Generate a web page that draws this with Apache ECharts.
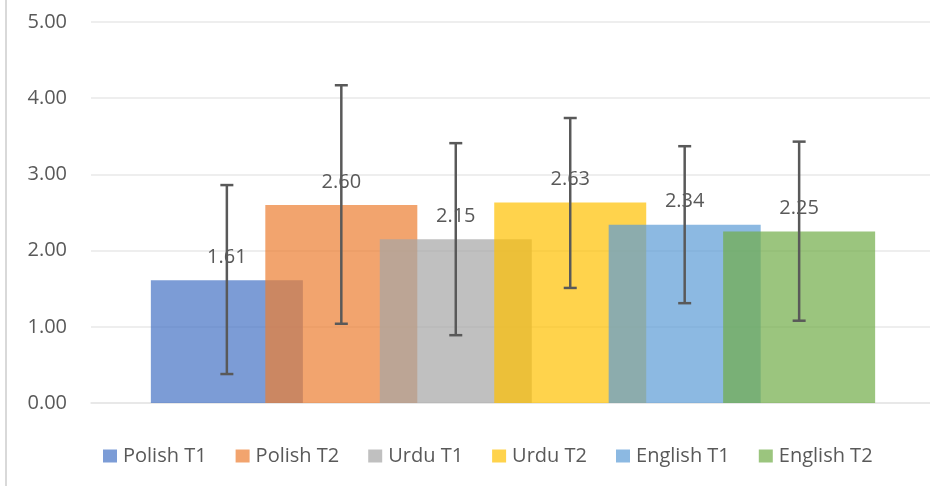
<!DOCTYPE html>
<html>
<head>
<meta charset="utf-8">
<script src="https://cdn.jsdelivr.net/npm/echarts@6/dist/echarts.min.js"></script>
<style>
html,body{margin:0;padding:0;background:#fff;}
#c{width:930px;height:486px;}
</style>
</head>
<body>
<div id="c"></div>
<script>
const seriesNames = ['Polish T1','Polish T2','Urdu T1','Urdu T2','English T1','English T2'];
const means = [1.61, 2.60, 2.15, 2.63, 2.34, 2.25];
const errLow = [0.38, 1.04, 0.89, 1.51, 1.31, 1.08];
const errHigh = [2.86, 4.17, 3.41, 3.74, 3.37, 3.43];
const colors = ['#4472C4','#ED7D31','#A5A5A5','#FFC000','#5B9BD5','#70AD47'];
const yMin = 0, yMax = 5, yStep = 1;

const FONT = 'Open Sans';
const TXT = '#595959';
const BW = 152;
const GAP = -0.247;

function withAlpha(hex, a){
  const r = parseInt(hex.slice(1,3),16), g = parseInt(hex.slice(3,5),16), b = parseInt(hex.slice(5,7),16);
  return 'rgba(' + r + ',' + g + ',' + b + ',' + a + ')';
}

const chart = echarts.init(document.getElementById('c'), null, {renderer:'canvas'});

const n = seriesNames.length;
const total = n*BW + (n-1)*GAP*BW;
function offsetOf(i){ return -total/2 + i*BW*(1+GAP) + BW/2; }

const series = seriesNames.map((name, i) => ({
  name: name,
  type: 'bar',
  barWidth: BW,
  barGap: (GAP*100) + '%',
  data: [means[i]],
  itemStyle: {color: withAlpha(colors[i], 0.7)},
  label: {
    show: true, position: 'top', distance: 13,
    formatter: p => p.value.toFixed(2),
    color: TXT, fontFamily: FONT, fontSize: 20
  },
  emphasis: {disabled: true}
}));

series.push({
  name: 'err',
  type: 'custom',
  z: 10,
  data: seriesNames.map((s, i) => [0, errLow[i], errHigh[i], i]),
  encode: {x: 0, y: [1, 2]},
  renderItem: function(params, api){
    const i = api.value(3);
    const lo = api.coord([0, api.value(1)]);
    const hi = api.coord([0, api.value(2)]);
    const x = lo[0] + offsetOf(i);
    const cap = 6.5;
    const st = {stroke: '#595959', lineWidth: 2.5};
    return {type: 'group', children: [
      {type:'line', shape:{x1:x, y1:hi[1], x2:x, y2:lo[1]}, style: st},
      {type:'line', shape:{x1:x-cap, y1:hi[1], x2:x+cap, y2:hi[1]}, style: st},
      {type:'line', shape:{x1:x-cap, y1:lo[1], x2:x+cap, y2:lo[1]}, style: st}
    ]};
  },
  silent: true
});

chart.setOption({
  animation: false,
  textStyle: {fontFamily: FONT},
  grid: {left: 91, right: -5, top: 22, bottom: 83, containLabel: false, outerBoundsMode: 'none'},
  graphic: [{type:'rect', shape:{x:5, y:0, width:2, height:486}, style:{fill:'#d9d9d9'}, silent:true}],
  legend: {
    data: seriesNames,
    left: 98, top: 441,
    icon: 'rect', itemWidth: 14, itemHeight: 13, itemGap: 29,
    textStyle: {color: TXT, fontSize: 20, fontFamily: FONT, padding: [0,0,0,1]},
    selectedMode: false
  },
  xAxis: {
    type: 'category', data: [''],
    axisLine: {show: true, lineStyle: {color: '#e6e6e6', width: 1.5}},
    axisTick: {show: false}, axisLabel: {show: false}
  },
  yAxis: {
    type: 'value', min: yMin, max: yMax, interval: yStep,
    axisLine: {show: false}, axisTick: {show: false},
    splitLine: {lineStyle: {color: '#e9e9e9', width: 1.5}},
    axisLabel: {formatter: v => v.toFixed(2), color: TXT, fontSize: 20, fontFamily: FONT, margin: 24}
  },
  series: series
});
</script>
</body>
</html>
